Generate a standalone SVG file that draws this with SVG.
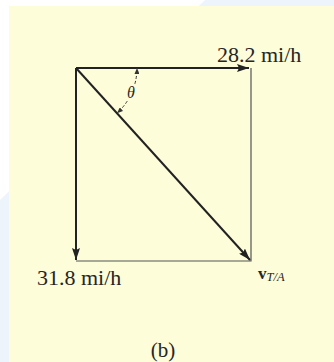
<svg xmlns="http://www.w3.org/2000/svg" width="334" height="362" viewBox="0 0 334 362">
  <defs>
    <marker id="ah" viewBox="0 0 12 8" refX="12" refY="4" markerWidth="12" markerHeight="8" markerUnits="userSpaceOnUse" orient="auto">
      <path d="M0,0 L12,4 L0,8 L2,4 Z" fill="#222"/>
    </marker>
    <marker id="ahs" viewBox="0 0 6 5" refX="6" refY="2.5" markerWidth="6" markerHeight="5" markerUnits="userSpaceOnUse" orient="auto">
      <path d="M0,0 L6,2.5 L0,5 Z" fill="#333"/>
    </marker>
  </defs>
  <style>
    .lbl { font-family: "Liberation Serif", "Times New Roman", serif; fill: #262626; }
    .thin { stroke: #555; stroke-width: 1.2; fill: none; }
    .vec { stroke: #222; stroke-width: 2; fill: none; marker-end: url(#ah); }
    .arc { stroke: #333; stroke-width: 1; fill: none; stroke-dasharray: 3 2; marker-end: url(#ahs); }
  </style>
  <rect x="0" y="0" width="334" height="362" fill="#eef4fb"/>
  <polygon points="0,0 205,0 0,200" fill="#ffffff"/>
  <rect x="9" y="6" width="325" height="356" fill="#fdfdd9"/>

  <g id="connectors">
    <path class="thin" d="M251,68 L251,261 L76,261"/>
    <path id="v-top" class="vec" d="M76,68 L249,68"/>
    <path id="v-left" class="vec" d="M76,68 L76,260"/>
    <path id="v-diag" class="vec" d="M76,68 L250,260"/>
    <path class="arc" d="M134.9,83.8 A61,61 0 0 0 137,68"/>
    <path class="arc" d="M127.2,101.2 A61,61 0 0 1 117,113.2"/>
  </g>

  <g id="label-top">
    <text class="lbl" x="217" y="62" font-size="22">28.2 mi/h</text>
  </g>
  <g id="label-left">
    <text class="lbl" x="37" y="285" font-size="22">31.8 mi/h</text>
  </g>
  <g id="label-vta">
    <text class="lbl" x="258" y="279" font-size="17" font-weight="bold">v<tspan font-size="12.5" font-weight="normal" font-style="italic" dy="2">T/A</tspan></text>
  </g>
  <g id="label-theta">
    <text class="lbl" x="131" y="98" font-size="16" font-style="italic" text-anchor="middle">θ</text>
  </g>
  <g id="caption">
    <text class="lbl" x="163" y="357" font-size="21" text-anchor="middle">(b)</text>
  </g>
</svg>
